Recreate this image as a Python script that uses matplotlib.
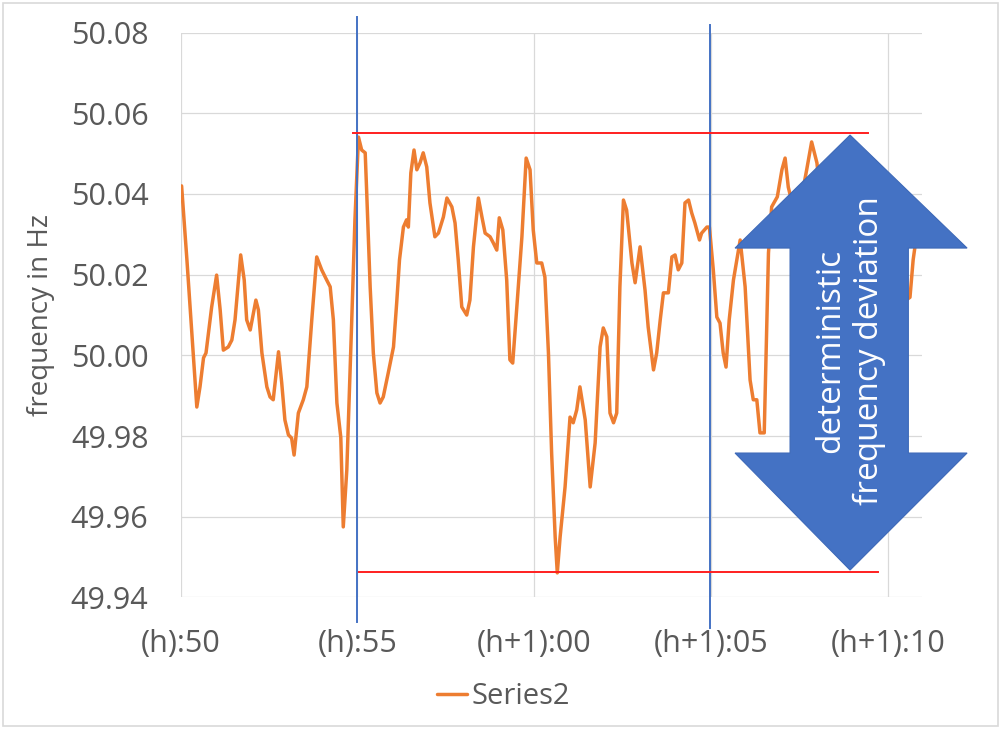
import matplotlib
matplotlib.use("Agg")
import matplotlib.pyplot as plt
from matplotlib.patches import Polygon, Rectangle

# time in minutes after (h):00 (values >= 60 are in hour h+1), frequency in Hz
minutes = [
    50.03, 50.18, 50.32, 50.46, 50.55, 50.65, 50.72, 50.88, 51.02, 51.12,
    51.21, 51.35, 51.45, 51.54, 51.70, 51.80, 51.87, 51.97, 52.06, 52.13,
    52.20, 52.30, 52.44, 52.53, 52.62, 52.77, 52.86, 52.95, 53.05, 53.14,
    53.21, 53.33, 53.47, 53.57, 53.71, 53.85, 53.99, 54.13, 54.23, 54.32,
    54.42, 54.53, 54.60, 54.70, 54.84, 54.93, 55.03, 55.12, 55.22, 55.26,
    55.36, 55.45, 55.55, 55.64, 55.73, 55.87, 56.02, 56.11, 56.19, 56.30,
    56.39, 56.44, 56.51, 56.60, 56.68, 56.77, 56.86, 56.96, 57.05, 57.19,
    57.29, 57.43, 57.53, 57.67, 57.76, 57.85, 57.95, 58.09, 58.18, 58.28,
    58.42, 58.52, 58.61, 58.75, 58.84, 58.94, 59.01, 59.11, 59.22, 59.31,
    59.39, 59.48, 59.65, 59.77, 59.88, 59.97, 60.07, 60.21, 60.30, 60.40,
    60.49, 60.59, 60.65, 60.73, 60.87, 61.01, 61.10, 61.20, 61.29, 61.44,
    61.58, 61.72, 61.86, 61.95, 62.05, 62.14, 62.24, 62.33, 62.42, 62.52,
    62.61, 62.76, 62.85, 62.99, 63.13, 63.22, 63.37, 63.46, 63.56, 63.65,
    63.79, 63.89, 63.98, 64.07, 64.17, 64.26, 64.36, 64.45, 64.54, 64.67,
    64.73, 64.88, 64.95, 65.06, 65.16, 65.25, 65.34, 65.42, 65.51, 65.63,
    65.82, 65.96, 66.10, 66.19, 66.29, 66.38, 66.50, 66.62, 66.71, 66.87,
    67.00, 67.09, 67.18, 67.37, 67.54, 67.70, 67.84, 67.99, 68.13, 68.30,
    68.47, 68.64, 68.81, 68.98, 69.15, 69.32, 69.49, 69.66, 69.83, 70.00,
    70.17, 70.34, 70.51, 70.62, 70.71, 70.82,
]
freq = [
    50.0420, 50.0237, 50.0056, 49.9872, 49.9922, 49.9994, 50.0006, 50.0120, 50.0199, 50.0113,
    50.0013, 50.0021, 50.0038, 50.0088, 50.0249, 50.0187, 50.0088, 50.0063, 50.0105, 50.0137,
    50.0113, 50.0006, 49.9922, 49.9897, 49.9890, 50.0009, 49.9932, 49.9840, 49.9803, 49.9795,
    49.9753, 49.9857, 49.9890, 49.9922, 50.0088, 50.0244, 50.0212, 50.0187, 50.0170, 50.0088,
    49.9882, 49.9797, 49.9575, 49.9716, 50.0088, 50.0336, 50.0541, 50.0509, 50.0502, 50.0410,
    50.0170, 50.0006, 49.9907, 49.9882, 49.9897, 49.9956, 50.0021, 50.0130, 50.0237, 50.0318,
    50.0336, 50.0318, 50.0452, 50.0509, 50.0460, 50.0477, 50.0502, 50.0467, 50.0378, 50.0294,
    50.0303, 50.0343, 50.0390, 50.0368, 50.0328, 50.0237, 50.0120, 50.0100, 50.0137, 50.0269,
    50.0390, 50.0343, 50.0303, 50.0294, 50.0279, 50.0261, 50.0341, 50.0311, 50.0187, 49.9989,
    49.9981, 50.0088, 50.0294, 50.0489, 50.0460, 50.0311, 50.0229, 50.0229, 50.0194, 50.0006,
    49.9758, 49.9550, 49.9461, 49.9550, 49.9674, 49.9847, 49.9833, 49.9865, 49.9922, 49.9840,
    49.9674, 49.9783, 50.0021, 50.0068, 50.0046, 49.9857, 49.9833, 49.9857, 50.0170, 50.0385,
    50.0360, 50.0229, 50.0180, 50.0269, 50.0162, 50.0070, 49.9964, 50.0006, 50.0088, 50.0155,
    50.0155, 50.0244, 50.0249, 50.0212, 50.0229, 50.0378, 50.0385, 50.0353, 50.0328, 50.0286,
    50.0303, 50.0318, 50.0318, 50.0212, 50.0095, 50.0080, 50.0006, 49.9971, 50.0088, 50.0187,
    50.0286, 50.0170, 49.9939, 49.9890, 49.9890, 49.9808, 49.9808, 50.0254, 50.0368, 50.0393,
    50.0460, 50.0489, 50.0417, 50.0348, 50.0385, 50.0460, 50.0529, 50.0477, 50.0360, 50.0212,
    50.0286, 50.0113, 50.0237, 50.0311, 50.0137, 50.0038, 50.0187, 50.0261, 50.0113, 50.0212,
    50.0286, 50.0187, 50.0137, 50.0144, 50.0237, 50.0306,
]

x_ticks = [50, 55, 60, 65, 70]
x_labels = ["(h):50", "(h):55", "(h+1):00", "(h+1):05", "(h+1):10"]
y_ticks = [49.94, 49.96, 49.98, 50.00, 50.02, 50.04, 50.06, 50.08]

# markers drawn on top of the chart
window = [55.0, 64.98]
window_top = [50.0839, 50.0819]
window_bottom = [49.9339, 49.9325]
band_high = 50.0552
band_low = 49.9462
band_high_x = [54.88, 69.44]
band_low_x = [55.05, 69.72]

grey = "#595959"
plt.rcParams["font.family"] = ["Open Sans", "DejaVu Sans"]

fig = plt.figure(figsize=(10.03, 7.29), dpi=100)
ax = fig.add_axes([0.18, 0.1804, 0.739, 0.7749])

ax.plot(minutes, freq, color="#ED7D31", lw=2.5, label="Series2", zorder=3,
        solid_joinstyle="round", solid_capstyle="round")

ax.set_xlim(50, 70.953)
ax.set_ylim(49.94, 50.08)
ax.set_xticks(x_ticks)
ax.set_xticklabels(x_labels)
ax.set_yticks(y_ticks)
ax.set_yticklabels([f"{v:.2f}" for v in y_ticks])
ax.tick_params(axis="both", length=0, colors=grey, labelsize=22)
ax.tick_params(axis="y", pad=23)
ax.tick_params(axis="x", pad=23)
ax.grid(True, color="#d9d9d9", lw=0.9)
ax.set_axisbelow(True)
for s in ax.spines.values():
    s.set_visible(False)

# blue verticals at the window limits
for xv, yt, yb in zip(window, window_top, window_bottom):
    ax.plot([xv, xv], [yb, yt], color="#4472C4", lw=1.4, clip_on=False, zorder=4)

# red band limits
ax.plot(band_high_x, [band_high, band_high], color="#FF1F1F", lw=1.4, zorder=4)
ax.plot(band_low_x, [band_low, band_low], color="#FF1F1F", lw=1.4, zorder=4)

# double arrow
cx, bl, br, hl, hr = 68.926, 67.23, 70.574, 65.675, 72.234
top, hb_top, hb_bot, bot = 50.0546, 50.0266, 49.9758, 49.9468
arrow = Polygon([(cx, top), (hr, hb_top), (br, hb_top), (br, hb_bot), (hr, hb_bot),
                 (cx, bot), (hl, hb_bot), (bl, hb_bot), (bl, hb_top), (hl, hb_top)],
                closed=True, facecolor="#4472C4", edgecolor="#3d69b8", lw=0.8,
                clip_on=False, zorder=5)
ax.add_patch(arrow)
ax.text(cx, (hb_top + hb_bot) / 2, "deterministic\nfrequency deviation", rotation=90,
        ha="center", va="center", color="white", fontsize=24, linespacing=1.2,
        zorder=6)

fig.text(41 / 1003, 1 - 315 / 729, "frequency in Hz", rotation=90, ha="center",
         va="center", color=grey, fontsize=20)

fig.legend(loc="center", bbox_to_anchor=(0.502, 0.044), frameon=False, fontsize=21,
           handlelength=1.0, handletextpad=0.15, labelcolor=grey)

fig.patches.append(Rectangle((3 / 1003, 3 / 729), 995 / 1003, 723 / 729,
                             transform=fig.transFigure, fill=False,
                             edgecolor="#d9d9d9", lw=1.2))

fig.savefig("out.png", dpi=100)
